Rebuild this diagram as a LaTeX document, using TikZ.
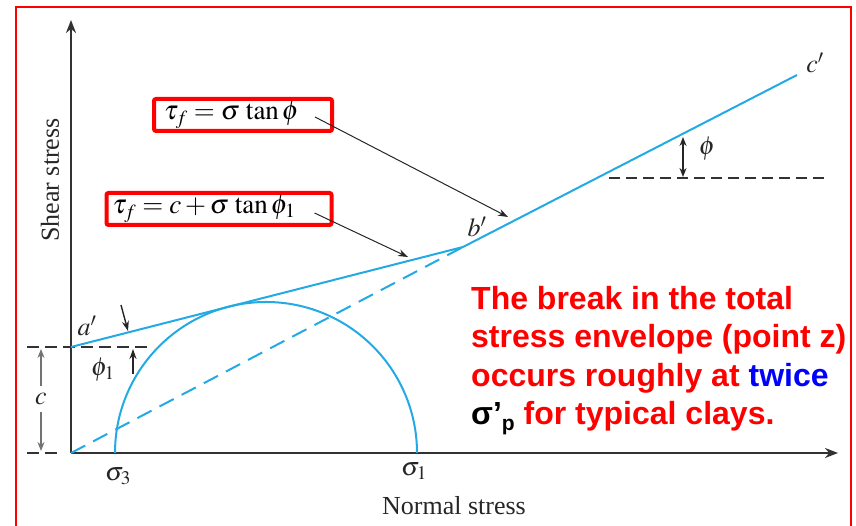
\documentclass[tikz,border=0pt]{standalone}
\usepackage{mathptmx}
\usepackage[no-math]{fontspec}
\setmainfont{Liberation Serif}
\newfontfamily\notefont{Liberation Sans}
\usetikzlibrary{arrows.meta}

\definecolor{envblue}{RGB}{35,170,228}
\definecolor{axisgray}{RGB}{50,50,50}

\tikzset{
  axis/.style={draw=axisgray, line width=2.2pt, -{Stealth[length=13pt, width=10pt]}},
  envelope/.style={draw=envblue, line width=2pt},
  guide/.style={draw=axisgray, line width=1.4pt, dash pattern=on 12pt off 6pt},
  eqbox/.style={draw=red, line width=4pt, rounded corners=2pt, align=left,
                font=\fontsize{27}{27}\selectfont, minimum height=32pt, inner ysep=2pt},
  pointer/.style={-{Stealth[length=10pt, width=7pt]}, line width=1pt, draw=black!85},
  dimarrow/.style={-{Stealth[length=9pt, width=7pt]}, line width=1.4pt, draw=black!55},
  lbl/.style={font=\fontsize{26}{26}\selectfont, text=black!85, inner sep=0pt},
}

\begin{document}
\begin{tikzpicture}[x=1pt, y=1pt]
  \tikzset{
    note/.style={font=\notefont\bfseries\fontsize{32}{38.5}\selectfont,
                 text=red, align=left, inner sep=0pt},
  }
  \useasboundingbox (0,0) rectangle (856,526);

  % Frame, open at the bottom
  \draw[red, line width=1.5pt] (16,-2) -- (16,519) -- (851,519) -- (851,-2);

  % Points of the envelope
  \coordinate (O)  at (71,73);
  \coordinate (ap) at (71,179);
  \coordinate (bp) at (463,279);
  \coordinate (cp) at (797,451);
  \coordinate (s3) at (115,73);
  \coordinate (s1) at (417,73);

  % Axes
  \coordinate (ytip) at (71,506);
  \coordinate (xtip) at (838,73);
  \draw[axis] (O) -- (ytip);
  \draw[axis] (O) -- (xtip);

  % Dashed guide lines
  \draw[guide] (27,179) -- (152,179);
  \draw[guide] (27,73) -- (63,73);
  \draw[guide, dash pattern=on 11pt off 6pt] (609,348) -- (826,348);

  % Mohr circle and envelopes
  \draw[envelope] (s1) arc[start angle=0, end angle=180, radius=151pt];
  \draw[envelope, dash pattern=on 16pt off 9pt] (O) -- (bp);
  \draw[envelope] (ap) -- (bp) -- (cp);

  % Labels
  \node[lbl] (sig3) at (118,50) {$\sigma_3$};
  \node[lbl] (sig1) at (414,55) {$\sigma_1$};
  \node[lbl] (xlab) at (454,20) {Normal stress};
  \node[lbl, rotate=90] (ylab) at (50,346) {Shear stress};
  \node[lbl] (alab) at (87,200) {$a'$};
  \node[lbl] (blab) at (477,299) {$b'$};
  \node[lbl] (clab) at (815,463) {$c'$};
  \node[lbl] (phi) at (707,377) {$\phi$};
  \node[lbl] (phione) at (103,156) {$\phi_1$};
  \node[lbl] (cc) at (41,127) {$c$};

  % Cohesion and angle arrows
  \coordinate (ctop) at (41,177);
  \coordinate (cbot) at (41,75);
  \draw[dimarrow, shorten <=7pt] (cc) -- (ctop);
  \draw[dimarrow, shorten <=7pt] (cc) -- (cbot);
  \coordinate (phiatail) at (121,221);
  \coordinate (phiahead) at (128,195);
  \coordinate (phibtail) at (133,152);
  \coordinate (phibhead) at (133,177);
  \draw[pointer, line width=1.4pt] (phiatail) -- (phiahead);
  \draw[pointer, line width=1.4pt] (phibtail) -- (phibhead);
  \coordinate (phitop) at (683,389);
  \coordinate (phibot) at (683,349);
  \draw[pointer, line width=1.4pt, {Stealth[length=9pt, width=7pt]}-{Stealth[length=9pt, width=7pt]}]
    (phitop) -- (phibot);

  % Equation boxes and their pointers
  \node[eqbox, text width=158pt, inner xsep=10pt] (eqa) at (243,411)
    {$\tau_f = \sigma\,\tan\phi$};
  \node[eqbox, text width=213pt, inner xsep=6pt] (eqb) at (219,317)
    {$\tau_f = c + \sigma\,\tan\phi_1$};
  \coordinate (taila) at ([xshift=-19pt, yshift=-2pt]eqa.east);
  \coordinate (tailb) at ([xshift=-19pt, yshift=-4pt]eqb.east);
  \coordinate (hita) at (508,309);
  \coordinate (hitb) at (408,269);
  \draw[pointer] (taila) -- (hita);
  \draw[pointer] (tailb) -- (hitb);

  % Note
  \node[note, anchor=north west] (note) at (471,240)
    {The break in the total\\
     stress envelope (point z)\\
     occurs roughly at {\color{blue}twice}\\
     {\color{black}σ’\raisebox{-0.35ex}{\fontsize{21}{21}\selectfont p}} for typical clays.};
\end{tikzpicture}
\end{document}
